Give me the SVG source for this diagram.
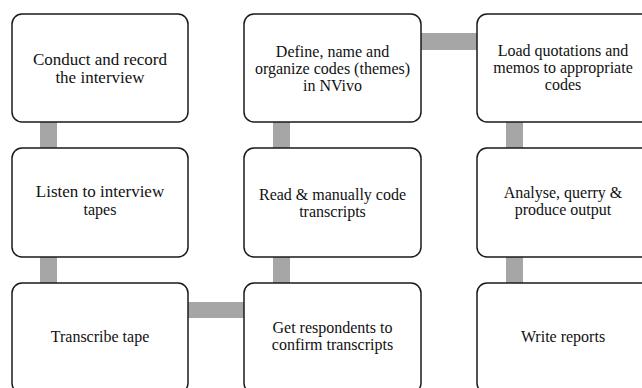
<svg xmlns="http://www.w3.org/2000/svg" width="642" height="388" viewBox="0 0 642 388">
<style>
.box{fill:#fff;stroke:#1a1a1a;stroke-width:1.5}
.con{fill:#a6a6a6;stroke:none}
text{font-family:"Liberation Serif","Times New Roman",serif;font-size:16px;fill:#111;text-anchor:middle}
.big{font-size:17px}
</style>
<rect width="642" height="388" fill="#fff"/>
<g id="connectors">
<rect class="con" x="40" y="120" width="17" height="30"/>
<rect class="con" x="40" y="255" width="17" height="30"/>
<rect class="con" x="186" y="302" width="60" height="16"/>
<rect class="con" x="273" y="255" width="17" height="30"/>
<rect class="con" x="273" y="120" width="17" height="30"/>
<rect class="con" x="419" y="33" width="60" height="17"/>
<rect class="con" x="506" y="120" width="17" height="30"/>
<rect class="con" x="506" y="255" width="17" height="30"/>
</g>
<g id="n1"><rect class="box" x="12" y="14" width="176" height="108" rx="10"/>
<text class="big" x="100" y="65">Conduct and record</text><text class="big" x="100" y="83">the interview</text></g>
<g id="n2"><rect class="box" x="244" y="14" width="177" height="108" rx="10"/>
<text x="332.5" y="57">Define, name and</text><text x="332.5" y="74">organize codes (themes)</text><text x="332.5" y="91">in NVivo</text></g>
<g id="n3"><rect class="box" x="477" y="14" width="176" height="108" rx="10"/>
<text x="563" y="56">Load quotations and</text><text x="563" y="73">memos to appropriate</text><text x="563" y="90">codes</text></g>
<g id="n4"><rect class="box" x="12" y="148" width="176" height="109" rx="10"/>
<text class="big" x="100" y="197">Listen to interview</text><text x="100" y="215">tapes</text></g>
<g id="n5"><rect class="box" x="244" y="148" width="177" height="109" rx="10"/>
<text x="332.5" y="200">Read &amp; manually code</text><text x="332.5" y="217">transcripts</text></g>
<g id="n6"><rect class="box" x="477" y="148" width="176" height="109" rx="10"/>
<text x="563" y="198">Analyse, querry &amp;</text><text x="563" y="215">produce output</text></g>
<g id="n7"><rect class="box" x="12" y="283" width="176" height="110" rx="10"/>
<text x="100" y="342">Transcribe tape</text></g>
<g id="n8"><rect class="box" x="244" y="283" width="177" height="110" rx="10"/>
<text x="332.5" y="333">Get respondents to</text><text x="332.5" y="350">confirm transcripts</text></g>
<g id="n9"><rect class="box" x="477" y="283" width="176" height="110" rx="10"/>
<text x="563" y="342">Write reports</text></g>
</svg>
